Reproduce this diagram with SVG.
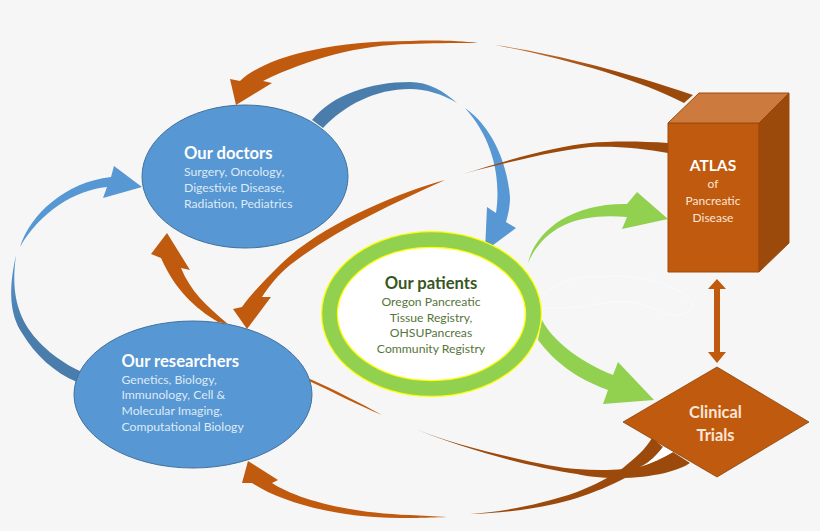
<svg xmlns="http://www.w3.org/2000/svg" width="820" height="531" viewBox="0 0 820 531">
<style>
text{font-family:"Lato","Noto Sans","Liberation Sans",sans-serif}
.or{fill:#c05a0e}.dk{fill:#9c4a0c}.gr{fill:#92d050}
.blob{fill:#5797d3;stroke:#41719c;stroke-width:1}
.t{font-size:16.6px;font-weight:700;fill:#fff}
.s{font-size:12.2px;fill:#deeaf6}
.pt{font-size:16.6px;font-weight:700;fill:#375623;text-anchor:middle}
.ps{font-size:12.2px;fill:#56763c;text-anchor:middle}
.a{font-size:12px;fill:#fbe5d6;text-anchor:middle}
.c{font-size:16.4px;font-weight:700;fill:#fbe5d6;text-anchor:middle}
</style>
<defs>
<linearGradient id="blueTop" gradientUnits="userSpaceOnUse" x1="312" y1="0" x2="458" y2="0"><stop offset="0.6" stop-color="#4a7dab"/><stop offset="1" stop-color="#5797d3"/></linearGradient>
<linearGradient id="blueLow" gradientUnits="userSpaceOnUse" x1="0" y1="255" x2="0" y2="382"><stop offset="0" stop-color="#5797d3"/><stop offset="0.55" stop-color="#4a7dab"/></linearGradient>
<linearGradient id="orTop" gradientUnits="userSpaceOnUse" x1="495" y1="0" x2="690" y2="0"><stop offset="0" stop-color="#c9763a"/><stop offset="0.6" stop-color="#9c4a0c"/></linearGradient>
</defs>
<rect width="820" height="531" fill="#f6f6f6"/>
<g id="connectors">
<!-- ATLAS to doctors -->
<path class="or" d="M236 105L230 79L240 81C262 60 320 41 410 41C440 40 460 41 478 43C450 43 430 43 410 44C360 45 310 58 263 81L272 83Z"/>
<path fill="url(#orTop)" d="M495 45C550 53 620 70 693 95L684 103C640 80 565 58 495 45Z"/>
<!-- doctors to patients -->
<path fill="url(#blueTop)" d="M312 120C332 95 370 82 410 82C428 82 444 91 457 103C442 94 426 89 410 89C375 89 345 105 323 128Z"/>
<path fill="#5797d3" d="M465 108C490 125 507 160 510 197C510 207 508 215 506 222L516 228L485 251L487 207L496 213C501 180 494 140 465 108Z"/>
<!-- ATLAS to researchers -->
<path class="dk" d="M668 143C640 141 610 141 590 143C560 146 520 156 463 174C520 159 560 150 590 147C620 146 645 149 668 153Z"/>
<path class="or" d="M445 180C400 192 320 225 280 265C265 280 252 293 242 307L233 309L247 329L271 297L262 297C270 285 278 275 290 265C335 230 390 205 445 180Z"/>
<!-- researchers to doctors -->
<path class="or" d="M167 233L151 254L161 258C175 290 195 308 218 322L228 324C205 305 190 290 181 268L190 270Z"/>
<!-- researchers to doctors, blue -->
<path fill="#5797d3" d="M20 247C30 215 65 182 111 177L114 166L142 187L103 198L107 187C75 190 40 212 20 247Z"/>
<path fill="url(#blueLow)" d="M16 255C8 290 10 315 22 333C35 355 55 373 77 382L80 371C60 362 38 345 26 325C15 305 12 285 16 255Z"/>
<!-- patients to ATLAS -->
<path class="gr" d="M528 263C535 232 570 203 627 204L637 192L668 219L622 229L627 217C580 213 545 225 528 263Z"/>
<!-- patients to trials -->
<path class="gr" d="M542 320C552 340 580 362 613 375L618 362L654 400L603 404L608 390C575 378 555 362 538 340Z"/>
<!-- trials to researchers, lower -->
<path class="or" d="M248 461L278 480L272 483C295 498 345 513 410 515L447 517C420 518 410 518 400 518C345 518 285 505 252 483L242 483Z"/>
<path class="dk" d="M470 514C500 512 540 505 577 492C595 485 610 477 623 468C635 458 645 450 652 438L663 447C655 458 643 468 627 477C610 486 595 492 577 498C545 508 505 513 470 514Z"/>
<!-- trials to researchers, thin -->
<path class="or" d="M310 379C335 390 360 403 382 415C360 406 335 393 309 381Z"/>
<path class="dk" d="M403 424C440 440 480 450 510 457C540 464 560 468 577 469C600 471 625 470 640 467C652 463 663 458 673 452L690 463C680 470 655 478 617 478C600 478 585 476 577 474C555 471 530 465 510 460C480 452 440 440 403 424Z"/>
<path fill="#fff" d="M640 467C650 462 657 455 663 447L673 452C663 458 652 463 640 467Z"/>
<!-- ATLAS to trials -->
<path class="or" d="M717 279L726 289L720 289V352L726 352L717 363L708 352L714 352V289L708 289Z"/>
<!-- faint -->
<path fill="none" stroke="#fff" stroke-width="0.8" opacity="0.55" d="M543 295C555 283 580 274 600 277C625 274 670 278 693 302C695 312 680 316 670 315C655 310 640 302 627 302C605 300 585 310 543 308"/>
</g>
<g id="doctors">
<ellipse class="blob" cx="245" cy="176.5" rx="103" ry="71.5"/>
<text class="t" x="184" y="159">Our doctors</text>
<text class="s" x="184" y="176">Surgery, Oncology,</text>
<text class="s" x="184" y="192">Digestivie Disease,</text>
<text class="s" x="184" y="208">Radiation, Pediatrics</text>
</g>
<g id="researchers">
<ellipse class="blob" cx="193" cy="394.5" rx="119" ry="73.5"/>
<text class="t" x="121.500" y="367">Our researchers</text>
<text class="s" x="121.500" y="383.500">Genetics, Biology,</text>
<text class="s" x="121.500" y="399">Immunology, Cell &amp;</text>
<text class="s" x="121.500" y="415">Molecular Imaging,</text>
<text class="s" x="121.500" y="431">Computational Biology</text>
</g>
<g id="patients">
<ellipse cx="431.500" cy="314" rx="102" ry="74.500" fill="#fff" stroke="#ffff00" stroke-width="17"/>
<ellipse cx="431.500" cy="314" rx="102" ry="74.500" fill="none" stroke="#92d050" stroke-width="14.500"/>
<text class="pt" x="431" y="289">Our patients</text>
<text class="ps" x="431" y="306">Oregon Pancreatic</text>
<text class="ps" x="431" y="321.500">Tissue Registry,</text>
<text class="ps" x="431" y="337">OHSUPancreas</text>
<text class="ps" x="431" y="353">Community Registry</text>
</g>
<g id="atlas">
<path fill="#c05a0e" stroke="#9c4a0c" d="M668 123H759V272H668Z"/>
<path fill="#cd7a3e" stroke="#9c4a0c" d="M668 123L699 93H789L759 123Z"/>
<path fill="#9c4a0c" stroke="#9c4a0c" d="M759 123L789 93V243L759 272Z"/>
<text x="713" y="171" text-anchor="middle" font-size="15.500" font-weight="700" fill="#fff">ATLAS</text>
<text class="a" x="713" y="188">of</text>
<text class="a" x="713" y="205">Pancreatic</text>
<text class="a" x="713" y="222">Disease</text>
</g>
<g id="trials">
<path fill="#c05a0e" stroke="#8a4209" stroke-width="0.8" d="M717 367L809 422L717 477L623 422Z"/>
<text class="c" x="715.500" y="418">Clinical</text>
<text class="c" x="715.500" y="441">Trials</text>
</g>
</svg>
